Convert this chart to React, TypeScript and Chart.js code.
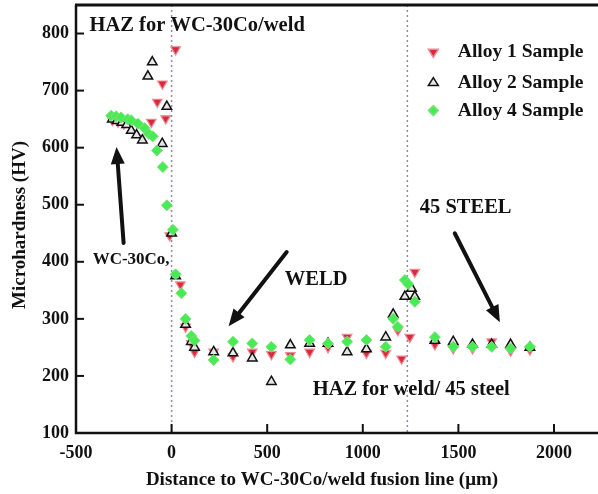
import React, { useEffect, useRef } from "react";
import { Chart, registerables } from "chart.js";

Chart.register(...registerables);

const FONT = '"Liberation Serif", "Times New Roman", serif';

// ---- data (distance in µm, microhardness in HV) ----
const alloy1X = [-310, -280, -250, -106, -75, -48, -31, -10, 21, 46, 73, 103, 120, 220, 321, 422, 522, 621, 722, 818, 918, 1019, 1120, 1183, 1203, 1246, 1272, 1377, 1473, 1574, 1674, 1773, 1874];
const alloy1Y = [648, 645, 642, 645, 680, 712, 651, 446, 772, 360, 286, 257, 242, 242, 234, 242, 238, 236, 242, 250, 268, 240, 240, 280, 230, 268, 382, 255, 248, 248, 260, 244, 246];

const alloy2X = [-310, -285, -260, -235, -211, -183, -153, -124, -101, -49, -25, 0, 21, 73, 103, 120, 220, 321, 422, 522, 621, 722, 818, 918, 1019, 1120, 1159, 1220, 1255, 1272, 1377, 1473, 1574, 1674, 1773, 1874];
const alloy2Y = [650, 647, 644, 640, 630, 622, 613, 725, 750, 607, 672, 450, 375, 290, 260, 250, 242, 240, 231, 190, 254, 257, 257, 242, 247, 268, 308, 339, 353, 339, 262, 260, 255, 255, 255, 250];

const alloy4X = [-316, -290, -264, -229, -211, -176, -141, -119, -98, -77, -46, -25, 7, 21, 51, 73, 103, 120, 220, 321, 422, 522, 621, 722, 818, 918, 1019, 1120, 1159, 1183, 1220, 1237, 1272, 1377, 1473, 1574, 1674, 1773, 1874];
const alloy4Y = [656, 655, 653, 650, 648, 642, 634, 624, 620, 595, 566, 499, 456, 378, 345, 300, 270, 262, 228, 260, 257, 251, 229, 263, 257, 260, 263, 251, 300, 286, 368, 361, 330, 268, 251, 251, 251, 248, 251];

const seriesNames = ["Alloy 1 Sample", "Alloy 2 Sample", "Alloy 4 Sample"];

const xTickValues = [-500, 0, 500, 1000, 1500, 2000];
const yTickValues = [100, 200, 300, 400, 500, 600, 700, 800];
const fusionLineX = [0, 1233];

const xTitle = "Distance to WC-30Co/weld fusion line (\u03bcm)";
const yTitle = "Microhardness (HV)";

const toPoints = (xs: number[], ys: number[]) => xs.map((x, i) => ({ x, y: ys[i] }));

const RED_FILL = "#d92a3c";
const RED_EDGE = "#ee8a96";
const BLK_FILL = "#e6e6e6";
const BLK_EDGE = "#111111";
const GRN_FILL = "#46ec52";
const GRN_EDGE = "#7ee07e";

function drawArrow(ctx: CanvasRenderingContext2D, x1: number, y1: number, x2: number, y2: number) {
  const ang = Math.atan2(y2 - y1, x2 - x1);
  const headLen = 17;
  const headW = 7;
  const bx = x2 - headLen * Math.cos(ang);
  const by = y2 - headLen * Math.sin(ang);
  ctx.save();
  ctx.strokeStyle = "#111";
  ctx.fillStyle = "#111";
  ctx.lineWidth = 4;
  ctx.lineCap = "round";
  ctx.beginPath();
  ctx.moveTo(x1, y1);
  ctx.lineTo(bx, by);
  ctx.stroke();
  ctx.beginPath();
  ctx.moveTo(x2, y2);
  ctx.lineTo(bx + headW * Math.sin(ang), by - headW * Math.cos(ang));
  ctx.lineTo(bx - headW * Math.sin(ang), by + headW * Math.cos(ang));
  ctx.closePath();
  ctx.fill();
  ctx.restore();
}

function drawSymbol(ctx: CanvasRenderingContext2D, kind: number, cx: number, cy: number, r: number) {
  ctx.save();
  ctx.lineWidth = 1.5;
  ctx.beginPath();
  if (kind === 0) {
    ctx.moveTo(cx, cy + r);
    ctx.lineTo(cx - r, cy - r * 0.6);
    ctx.lineTo(cx + r, cy - r * 0.6);
    ctx.fillStyle = RED_FILL;
    ctx.strokeStyle = RED_EDGE;
  } else if (kind === 1) {
    ctx.moveTo(cx, cy - r);
    ctx.lineTo(cx - r, cy + r * 0.6);
    ctx.lineTo(cx + r, cy + r * 0.6);
    ctx.fillStyle = BLK_FILL;
    ctx.strokeStyle = BLK_EDGE;
  } else {
    ctx.moveTo(cx, cy - r);
    ctx.lineTo(cx + r, cy);
    ctx.lineTo(cx, cy + r);
    ctx.lineTo(cx - r, cy);
    ctx.fillStyle = GRN_FILL;
    ctx.strokeStyle = GRN_EDGE;
  }
  ctx.closePath();
  ctx.fill();
  ctx.stroke();
  ctx.restore();
}

const decor = {
  id: "decor",
  beforeDatasetsDraw(chart: any) {
    const { ctx, chartArea: a, scales } = chart;
    const x = scales.x;
    ctx.save();
    ctx.strokeStyle = "#8c8cac";
    ctx.lineWidth = 1.5;
    ctx.setLineDash([2, 3]);
    fusionLineX.forEach((v) => {
      const px = x.getPixelForValue(v);
      ctx.beginPath();
      ctx.moveTo(px, a.top);
      ctx.lineTo(px, a.bottom);
      ctx.stroke();
    });
    ctx.restore();
  },
  afterDraw(chart: any) {
    const { ctx, chartArea: a, scales } = chart;
    const x = scales.x;
    const y = scales.y;
    const X = (v: number) => x.getPixelForValue(v);
    const Y = (v: number) => y.getPixelForValue(v);
    ctx.save();
    // frame
    ctx.strokeStyle = "#111";
    ctx.lineWidth = 2.5;
    ctx.beginPath();
    ctx.moveTo(a.left, a.top);
    ctx.lineTo(a.left, a.bottom);
    ctx.lineTo(a.right + 2, a.bottom);
    ctx.stroke();
    ctx.lineWidth = 3;
    ctx.beginPath();
    ctx.moveTo(a.left - 1, a.top);
    ctx.lineTo(a.right + 2, a.top);
    ctx.stroke();
    // inward ticks
    ctx.lineWidth = 2;
    xTickValues.forEach((v) => {
      const px = X(v);
      ctx.beginPath();
      ctx.moveTo(px, a.bottom);
      ctx.lineTo(px, a.bottom - 9);
      ctx.stroke();
    });
    yTickValues.forEach((v) => {
      const py = Y(v);
      ctx.beginPath();
      ctx.moveTo(a.left, py);
      ctx.lineTo(a.left + 8, py);
      ctx.stroke();
    });
    // axis titles
    ctx.fillStyle = "#111";
    ctx.textBaseline = "middle";
    ctx.textAlign = "center";
    ctx.font = `bold 19px ${FONT}`;
    ctx.fillText(xTitle, 322, 480);
    ctx.save();
    ctx.translate(20, (a.top + a.bottom) / 2 + 6);
    ctx.rotate(-Math.PI / 2);
    ctx.font = `bold 19px ${FONT}`;
    ctx.fillText(yTitle, 0, 0);
    ctx.restore();
    // annotations
    ctx.textAlign = "left";
    ctx.font = `bold 20.5px ${FONT}`;
    ctx.fillText("HAZ for WC-30Co/weld", X(-429), Y(814));
    ctx.font = `bold 17px ${FONT}`;
    ctx.fillText("WC-30Co,", X(-413), Y(403));
    ctx.font = `bold 20.5px ${FONT}`;
    ctx.fillText("WELD", X(592), Y(368));
    ctx.fillText("45 STEEL", X(1298), Y(494));
    ctx.fillText("HAZ for weld/ 45 steel", X(738), Y(175));
    drawArrow(ctx, X(-251), Y(433), X(-288), Y(601));
    drawArrow(ctx, X(602), Y(417), X(298), Y(287));
    drawArrow(ctx, X(1481), Y(450), X(1717), Y(294));
    // legend
    const legendY = [767, 714, 665];
    ctx.font = `bold 19.5px ${FONT}`;
    seriesNames.forEach((name, i) => {
      drawSymbol(ctx, i, X(1369), Y(legendY[i]), 5);
      ctx.fillStyle = "#111";
      ctx.fillText(name, X(1497), Y(legendY[i]));
    });
    ctx.restore();
  },
};

const zeroPad = (s: any) => {
  s.paddingLeft = 0;
  s.paddingRight = 0;
  s.paddingTop = 0;
  s.paddingBottom = 0;
};

export default function App() {
  const ref = useRef<HTMLCanvasElement | null>(null);
  useEffect(() => {
    if (!ref.current) return;
    const chart = new Chart(ref.current, {
      type: "scatter",
      data: {
        datasets: [
          {
            label: seriesNames[2],
            data: toPoints(alloy4X, alloy4Y),
            pointStyle: "rectRot",
            pointRadius: 5.5,
            backgroundColor: GRN_FILL,
            borderColor: GRN_EDGE,
            borderWidth: 1,
            order: 0,
          },
          {
            label: seriesNames[1],
            data: toPoints(alloy2X, alloy2Y),
            pointStyle: "triangle",
            pointRadius: 5.5,
            backgroundColor: BLK_FILL,
            borderColor: BLK_EDGE,
            borderWidth: 1.5,
            order: 1,
          },
          {
            label: seriesNames[0],
            data: toPoints(alloy1X, alloy1Y),
            pointStyle: "triangle",
            rotation: 180,
            pointRadius: 5.5,
            backgroundColor: RED_FILL,
            borderColor: RED_EDGE,
            borderWidth: 1.2,
            order: 2,
          },
        ],
      },
      options: {
        animation: false,
        responsive: false,
        layout: { autoPadding: false, padding: { left: 0, top: 5, right: 1, bottom: 0 } },
        plugins: { legend: { display: false }, tooltip: { enabled: false } },
        scales: {
          x: {
            type: "linear",
            min: -500,
            max: 2225,
            afterFit: (s: any) => {
              s.height = 61;
              zeroPad(s);
            },
            afterBuildTicks: (s: any) => {
              s.ticks = xTickValues.map((v) => ({ value: v }));
            },
            grid: { display: false, drawTicks: false },
            border: { display: false },
            ticks: {
              padding: 10,
              color: "#111",
              font: { family: FONT, size: 18, weight: "bold" },
              maxRotation: 0,
              autoSkip: false,
              callback: (v: any) => String(v),
            },
          },
          y: {
            type: "linear",
            min: 100,
            max: 850,
            afterFit: (s: any) => {
              s.width = 76;
              zeroPad(s);
            },
            afterBuildTicks: (s: any) => {
              s.ticks = yTickValues.map((v) => ({ value: v }));
            },
            grid: { display: false, drawTicks: false },
            border: { display: false },
            ticks: {
              padding: 7,
              color: "#111",
              font: { family: FONT, size: 18, weight: "bold" },
              autoSkip: false,
              callback: (v: any) => String(v),
            },
          },
        },
      },
      plugins: [decor],
    });
    return () => chart.destroy();
  }, []);
  return (
    <div style={{ position: "absolute", left: 0, top: 0, width: 598, height: 494, background: "#fff" }}>
      <canvas ref={ref} width={598} height={494} />
    </div>
  );
}
